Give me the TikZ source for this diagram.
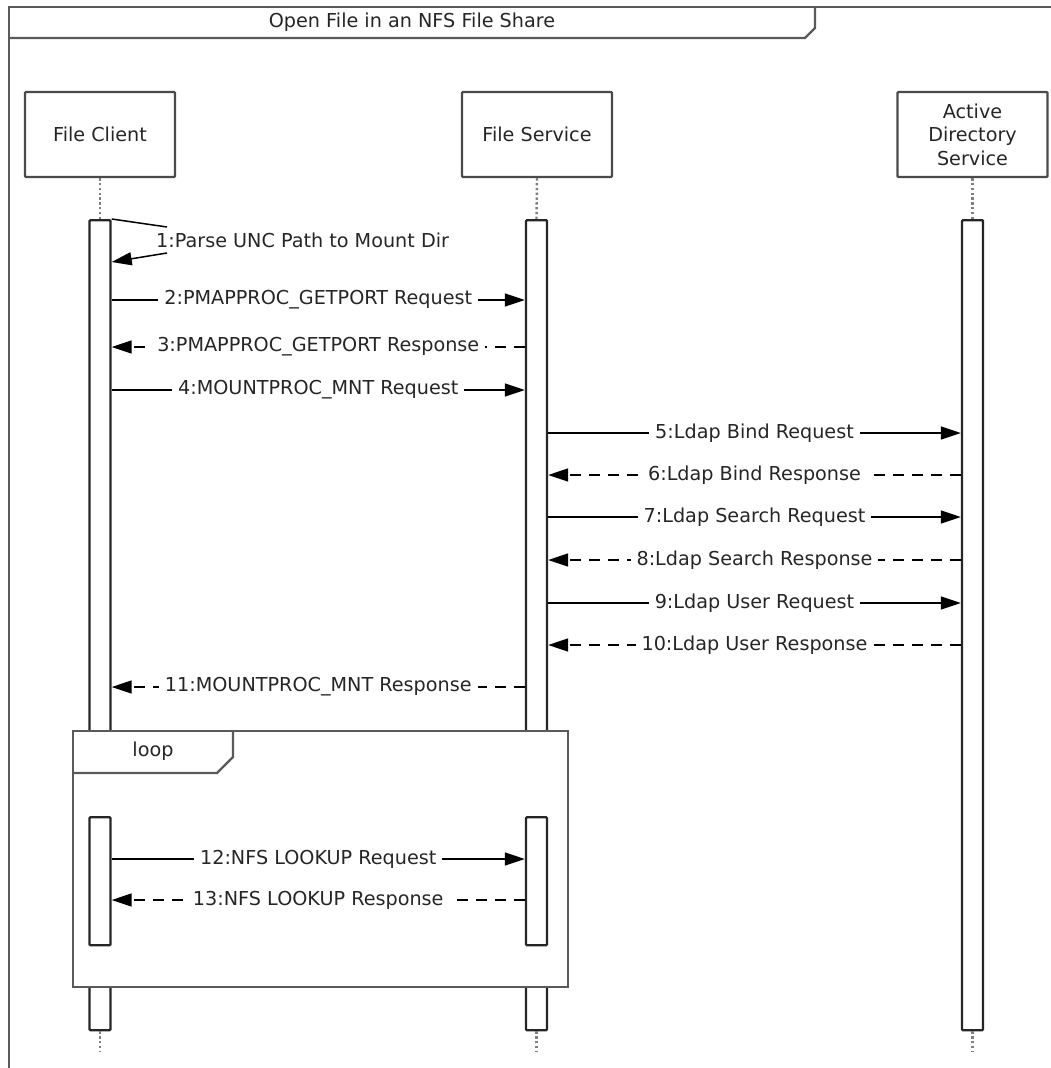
\documentclass[tikz,border=0pt]{standalone}
\usepackage{fontspec}
\setmainfont{DejaVu Sans}
\usetikzlibrary{arrows.meta}
\definecolor{txt}{HTML}{262626}
\definecolor{edge}{HTML}{4a4a4a}
\definecolor{framec}{HTML}{5a5a5a}
\begin{document}
\begin{tikzpicture}[x=1pt,y=-1pt,
  font=\fontsize{19.2}{23.5}\selectfont,
  head/.style={draw=edge, line width=2.4pt, fill=white, minimum width=150pt, minimum height=85pt, align=center, text=txt, inner sep=0pt, rounded corners=1pt},
  bar/.style={draw=black!85, line width=2.4pt, fill=white, minimum width=21pt, anchor=north, inner sep=0pt, rounded corners=1pt},
  life/.style={draw=gray, line width=2.4pt, dash pattern=on 2.4pt off 2.4pt},
  msg/.style={line width=1.5pt, -{Triangle[length=20pt,width=13pt]}},
  reply/.style={msg, dash pattern=on 11pt off 8pt},
  lbl/.style={fill=white, inner xsep=6pt, inner ysep=1pt, text=txt},
  framestyle/.style={draw=framec, line width=2.4pt}
]
\useasboundingbox (0,0) rectangle (1051,1068);

% outer frame
\draw[framestyle] (9,1068) -- (9,7) -- (1051,7);
\draw[framestyle] (9,38) -- (805,38) -- (815,28) -- (815,7);
\node[text=txt] (title) at (412,22) {Open File in an NFS File Share};

% lifeline heads
\node[head] (fc) at (100,134.5) {File Client};
\node[head] (fs) at (537,134.5) {File Service};
\node[head] (ad) at (972.5,134.5) {Active\\Directory\\Service};

% main activation bars
\node[bar, minimum height=810pt] (barC) at (100,219) {};
\node[bar, minimum height=810pt] (barS) at (536.5,219) {};
\node[bar, minimum height=810pt] (barA) at (972.5,219) {};

% lifelines
\coordinate (endC) at (100,1051);
\coordinate (endS) at (536.5,1051);
\coordinate (endA) at (972.5,1051);
\draw[life] (fc.south) -- (barC.north);
\draw[life] (fs.south) -- (barS.north);
\draw[life] (ad.south) -- (barA.north);
\draw[life] (barC.south) -- (endC);
\draw[life] (barS.south) -- (endS);
\draw[life] (barA.south) -- (endA);

% 1: self message
\coordinate (s1b) at (167,227);
\coordinate (s1c) at (167,253);
\draw[line width=1.5pt] (barC.north east) -- (s1b);
\node[text=txt, anchor=west, inner sep=0pt] (l1) at (156,240) {1:Parse UNC Path to Mount Dir};
\draw[msg] (s1c) -- (barC.east |- 0,262);

% messages
\draw[msg] (barC.east |- 0,300) -- node[lbl]{2:PMAPPROC\_GETPORT Request} (barS.west |- 0,300);
\draw[reply] (barS.west |- 0,347) -- node[lbl]{3:PMAPPROC\_GETPORT Response} (barC.east |- 0,347);
\draw[msg] (barC.east |- 0,390) -- node[lbl]{4:MOUNTPROC\_MNT Request} (barS.west |- 0,390);
\draw[msg] (barS.east |- 0,433) -- node[lbl]{5:Ldap Bind Request} (barA.west |- 0,433);
\draw[reply] (barA.west |- 0,475) -- node[lbl]{6:Ldap Bind Response} (barS.east |- 0,475);
\draw[msg] (barS.east |- 0,517) -- node[lbl]{7:Ldap Search Request} (barA.west |- 0,517);
\draw[reply] (barA.west |- 0,560) -- node[lbl]{8:Ldap Search Response} (barS.east |- 0,560);
\draw[msg] (barS.east |- 0,603) -- node[lbl]{9:Ldap User Request} (barA.west |- 0,603);
\draw[reply] (barA.west |- 0,645) -- node[lbl]{10:Ldap User Response} (barS.east |- 0,645);
\draw[reply] (barS.west |- 0,687) -- node[lbl]{11:MOUNTPROC\_MNT Response} (barC.east |- 0,687);

% loop frame
\draw[framestyle, fill=white] (73,731) rectangle (568,987);
\draw[framestyle] (73,773) -- (217,773) -- (233,757) -- (233,731);
\node[text=txt] (looplbl) at (153,751) {loop};

% inner activation bars
\node[bar, minimum height=128pt] (ibC) at (100,816) {};
\node[bar, minimum height=128pt] (ibS) at (536.5,816) {};

\draw[msg] (ibC.east |- 0,859) -- node[lbl]{12:NFS LOOKUP Request} (ibS.west |- 0,859);
\draw[reply] (ibS.west |- 0,900) -- node[lbl]{13:NFS LOOKUP Response} (ibC.east |- 0,900);
\end{tikzpicture}
\end{document}
